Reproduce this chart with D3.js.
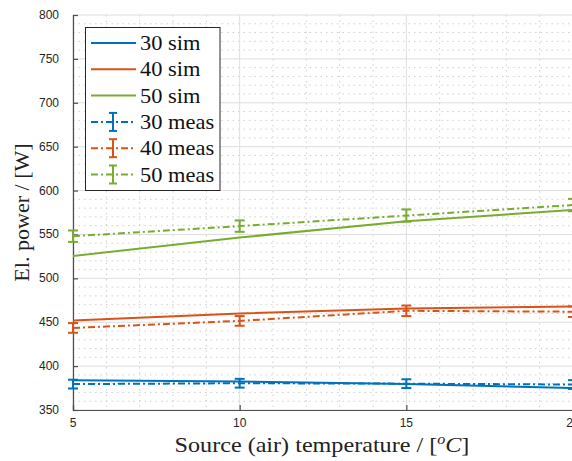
<!DOCTYPE html>
<html>
<head>
<meta charset="utf-8">
<script src="https://cdn.jsdelivr.net/npm/d3@7"></script>
<style>
  body { margin: 0; background: #fff; }
  svg { display: block; }
</style>
</head>
<body>
<div class="chart"></div>
<script>
// 讀圖估計的數值
const temps = [5, 10, 15, 20];
const sim30 = [384, 382.5, 379.5, 375];
const sim40 = [452, 460, 465.5, 468];
const sim50 = [525.5, 546.5, 565, 578];
const meas30 = [379.5, 380.5, 380, 379];
const meas40 = [443.5, 451.5, 463, 462];
const meas50 = [548, 559.5, 571.5, 583.5];
const err30 = [5, 5, 5, 5];
const err40 = [5.5, 5.5, 6, 6];
const err50 = [6.5, 6.5, 7, 7];
const xTicks = [5, 10, 15, 20];
const yTicks = [350, 400, 450, 500, 550, 600, 650, 700, 750, 800];
const legendLabels = ['30 sim', '40 sim', '50 sim', '30 meas', '40 meas', '50 meas'];

const colors = ['#0072BD', '#D95319', '#77AC30'];

const W = 572, H = 461;
const svg = d3.select('.chart').append('svg')
              .attr('width', W)
              .attr('height', H);

const x = d3.scaleLinear().domain([5, 20]).range([73, 573]);
const y = d3.scaleLinear().domain([350, 800]).range([410, 15]);

// 格線 (次要: 點線)
const gGrid = svg.append('g');
gGrid.selectAll('.vminor')
     .data(d3.range(5, 21, 1).filter(d => d % 5 !== 0))
     .enter().append('line')
     .attr('x1', d => x(d)).attr('x2', d => x(d))
     .attr('y1', y(800)).attr('y2', y(350))
     .attr('stroke', '#cfcfcf')
     .attr('stroke-width', 1)
     .attr('stroke-dasharray', '1.5,4');
gGrid.selectAll('.hminor')
     .data(d3.range(350, 801, 10).filter(d => d % 50 !== 0))
     .enter().append('line')
     .attr('x1', x(5)).attr('x2', W)
     .attr('y1', d => y(d)).attr('y2', d => y(d))
     .attr('stroke', '#cfcfcf')
     .attr('stroke-width', 1)
     .attr('stroke-dasharray', '1.5,4');
// 主要格線
gGrid.selectAll('.vmajor')
     .data(xTicks)
     .enter().append('line')
     .attr('x1', d => x(d)).attr('x2', d => x(d))
     .attr('y1', y(800)).attr('y2', y(350))
     .attr('stroke', '#dedede');
gGrid.selectAll('.hmajor')
     .data(yTicks)
     .enter().append('line')
     .attr('x1', x(5)).attr('x2', W)
     .attr('y1', d => y(d)).attr('y2', d => y(d))
     .attr('stroke', '#dedede');

// 座標軸 (刻度朝內)
const xAxis = svg.append('g')
                 .attr('transform', `translate(0,${y(350)})`)
                 .call(d3.axisTop(x).tickValues(xTicks).tickSize(5).tickFormat(''));
const yAxis = svg.append('g')
                 .attr('transform', `translate(${x(5)},0)`)
                 .call(d3.axisRight(y).tickValues(yTicks).tickSize(5).tickFormat(''));
[xAxis, yAxis].forEach(a => {
  a.select('.domain').attr('stroke', '#4d4d4d').attr('stroke-width', 1.2);
  a.selectAll('.tick line').attr('stroke', '#4d4d4d').attr('stroke-width', 1.2);
});

// 刻度文字
svg.selectAll('.xlab')
   .data(xTicks)
   .enter().append('text')
   .text(d => d)
   .attr('x', d => x(d))
   .attr('y', 427)
   .attr('text-anchor', 'middle')
   .attr('font-family', 'Liberation Sans, Arial, sans-serif')
   .attr('font-size', 12)
   .attr('fill', '#262626');
svg.selectAll('.ylab')
   .data(yTicks)
   .enter().append('text')
   .text(d => d)
   .attr('x', 59)
   .attr('y', d => y(d) + 4)
   .attr('text-anchor', 'end')
   .attr('font-family', 'Liberation Sans, Arial, sans-serif')
   .attr('font-size', 12)
   .attr('fill', '#262626');

// 軸標題 (Liberation Serif 比 LaTeX 字體窄，橫向拉寬一點)
svg.append('text')
   .text('El. power / [W]')
   .attr('transform', `translate(29,${(y(800) + y(350)) / 2}) rotate(-90) scale(1.05,1)`)
   .attr('text-anchor', 'middle')
   .attr('font-family', 'Liberation Serif, serif')
   .attr('font-size', 21)
   .attr('fill', '#222');
const xt = svg.append('text')
   .attr('transform', `translate(322,452) scale(1.15,1)`)
   .attr('text-anchor', 'middle')
   .attr('font-family', 'Liberation Serif, serif')
   .attr('font-size', 21)
   .attr('fill', '#222');
xt.append('tspan').text('Source (air) temperature / [');
xt.append('tspan').text('o').attr('font-size', 14).attr('font-style', 'italic').attr('dy', -8);
xt.append('tspan').text('C').attr('font-style', 'italic').attr('dy', 8);
xt.append('tspan').text(']');

// 曲線
const line = d3.line().x((d, i) => x(temps[i])).y(d => y(d));
const sims = [sim30, sim40, sim50];
const meas = [meas30, meas40, meas50];
const errs = [err30, err40, err50];
const dash = '7,3,2,3';

svg.selectAll('.sim')
   .data(sims)
   .enter().append('path')
   .attr('d', d => line(d))
   .attr('fill', 'none')
   .attr('stroke', (d, i) => colors[i])
   .attr('stroke-width', 2);

meas.forEach((m, k) => {
  const g = svg.append('g');
  g.append('path')
   .attr('d', line(m))
   .attr('fill', 'none')
   .attr('stroke', colors[k])
   .attr('stroke-width', 2)
   .attr('stroke-dasharray', dash);
  const pts = m.map((v, i) => ({t: temps[i], v: v, e: errs[k][i]}));
  g.selectAll('.bar').data(pts).enter().append('line')
   .attr('x1', d => x(d.t)).attr('x2', d => x(d.t))
   .attr('y1', d => y(d.v - d.e)).attr('y2', d => y(d.v + d.e))
   .attr('stroke', colors[k]).attr('stroke-width', 2);
  [-1, 1].forEach(s => {
    g.selectAll('.cap' + s).data(pts).enter().append('line')
     .attr('x1', d => x(d.t) - 5).attr('x2', d => x(d.t) + 5)
     .attr('y1', d => y(d.v + s * d.e)).attr('y2', d => y(d.v + s * d.e))
     .attr('stroke', colors[k]).attr('stroke-width', 2);
  });
});

// 圖例
const lg = svg.append('g');
lg.append('rect')
  .attr('x', 85.5).attr('y', 27.5)
  .attr('width', 134.5).attr('height', 163)
  .attr('fill', '#fff')
  .attr('stroke', '#262626')
  .attr('stroke-width', 1);
legendLabels.forEach((lab, i) => {
  const cy = 43 + i * 26.3;
  const c = colors[i % 3];
  lg.append('line')
    .attr('x1', 91).attr('x2', 136)
    .attr('y1', cy).attr('y2', cy)
    .attr('stroke', c).attr('stroke-width', 2)
    .attr('stroke-dasharray', i < 3 ? null : dash);
  if (i >= 3) {
    lg.append('line').attr('x1', 113).attr('x2', 113)
      .attr('y1', cy - 9).attr('y2', cy + 9)
      .attr('stroke', c).attr('stroke-width', 2);
    [-9, 9].forEach(o => {
      lg.append('line').attr('x1', 109).attr('x2', 117)
        .attr('y1', cy + o).attr('y2', cy + o)
        .attr('stroke', c).attr('stroke-width', 2);
    });
  }
  lg.append('text')
    .text(lab)
    .attr('transform', `translate(140,${cy + 7}) scale(1.07,1)`)
    .attr('font-family', 'Liberation Serif, serif')
    .attr('font-size', 21)
    .attr('fill', '#111');
});
</script>
</body>
</html>
